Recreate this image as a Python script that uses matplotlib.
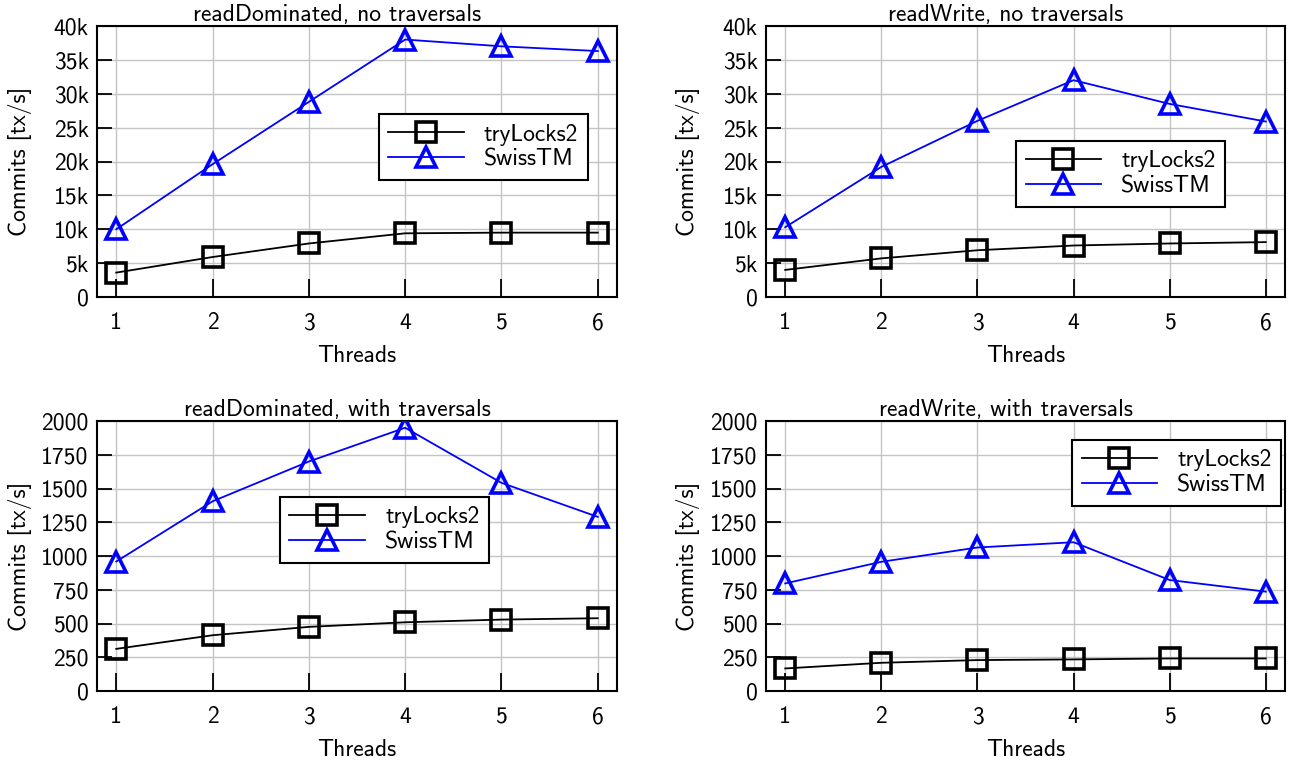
import matplotlib
matplotlib.use("Agg")
import matplotlib.pyplot as plt

plt.rcParams['font.family'] = ['cmss10', 'DejaVu Sans']
plt.rcParams['axes.unicode_minus'] = False

threads = [1, 2, 3, 4, 5, 6]
series_names = ["tryLocks2", "SwissTM"]

titles = ["readDominated, no traversals", "readWrite, no traversals",
          "readDominated, with traversals", "readWrite, with traversals"]

rd_notrav_trylocks = [3600, 5900, 7900, 9400, 9500, 9500]
rd_notrav_swiss = [10000, 19600, 28800, 38000, 37000, 36300]
rw_notrav_trylocks = [4000, 5700, 6900, 7600, 7900, 8100]
rw_notrav_swiss = [10300, 19200, 26000, 32000, 28500, 25900]
rd_trav_trylocks = [312, 413, 475, 509, 529, 539]
rd_trav_swiss = [959, 1405, 1700, 1950, 1542, 1290]
rw_trav_trylocks = [167, 209, 229, 234, 241, 241]
rw_trav_swiss = [797, 957, 1063, 1102, 822, 736]

yticks_k = [0, 5000, 10000, 15000, 20000, 25000, 30000, 35000, 40000]
yticklabels_k = ["0", "5k", "10k", "15k", "20k", "25k", "30k", "35k", "40k"]
yticks_s = [0, 250, 500, 750, 1000, 1250, 1500, 1750, 2000]
yticklabels_s = ["0", "250", "500", "750", "1000", "1250", "1500", "1750", "2000"]

FS = 17
W, H = 1289, 763
fig = plt.figure(figsize=(W / 100, H / 100), dpi=100)

def ax_rect(x0, x1, y0, y1):
    return [x0 / W, 1 - y1 / H, (x1 - x0) / W, (y1 - y0) / H]

rects = [ax_rect(97, 617, 26, 297), ax_rect(766, 1285, 26, 297),
         ax_rect(97, 617, 421, 691), ax_rect(766, 1285, 421, 691)]
data = [(rd_notrav_trylocks, rd_notrav_swiss), (rw_notrav_trylocks, rw_notrav_swiss),
        (rd_trav_trylocks, rd_trav_swiss), (rw_trav_trylocks, rw_trav_swiss)]
yts = [(yticks_k, yticklabels_k), (yticks_k, yticklabels_k),
       (yticks_s, yticklabels_s), (yticks_s, yticklabels_s)]
ylims = [40000, 40000, 2000, 2000]
legend_anchor = [(0.542, 0.675), (0.482, 0.576), (0.352, 0.719), (0.590, 0.930)]
ylabel_x = [-0.148, -0.150, -0.148, -0.150]

for i in range(4):
    ax = fig.add_axes(rects[i])
    tl, sw = data[i]
    ax.plot(threads, tl, color='black', lw=1.3, marker='s', ms=14,
            mfc='none', mec='black', mew=2.6, label=series_names[0], zorder=3)
    ax.plot(threads, sw, color='#0000ff', lw=1.3, marker='^', ms=15,
            mfc='none', mec='#0000ff', mew=2.6, label=series_names[1], zorder=3)
    ax.set_xlim(0.8, 6.2)
    ax.set_ylim(0, ylims[i])
    ax.set_xticks(threads)
    ax.set_xticklabels([str(t) for t in threads])
    ax.set_yticks(yts[i][0])
    ax.set_yticklabels(yts[i][1])
    ax.grid(True, color='#c4c4c4', lw=1.0, zorder=0)
    ax.set_axisbelow(True)
    ax.tick_params(axis='x', direction='in', length=13, width=1.3, labelsize=FS, pad=11)
    ax.tick_params(axis='y', direction='in', length=11, width=1.3, labelsize=FS, pad=6)
    for s in ax.spines.values():
        s.set_linewidth(1.5)
    ax.set_title(titles[i], fontsize=FS, pad=3, x=0.4615)
    ax.set_xlabel("Threads", fontsize=FS, labelpad=8)
    ax.set_ylabel("Commits [tx/s]", fontsize=FS)
    ax.yaxis.set_label_coords(ylabel_x[i], 0.5)
    ax.yaxis.label.set_verticalalignment('center')
    leg = ax.legend(loc='upper left', bbox_to_anchor=legend_anchor[i], fontsize=FS,
                    frameon=True, fancybox=False, handlelength=3.2, borderpad=0.4,
                    labelspacing=0.12, handletextpad=0.85, borderaxespad=0)
    leg.get_frame().set_edgecolor('black')
    leg.get_frame().set_linewidth(1.5)
    leg.get_frame().set_alpha(1)

fig.savefig("out.png", dpi=100)
